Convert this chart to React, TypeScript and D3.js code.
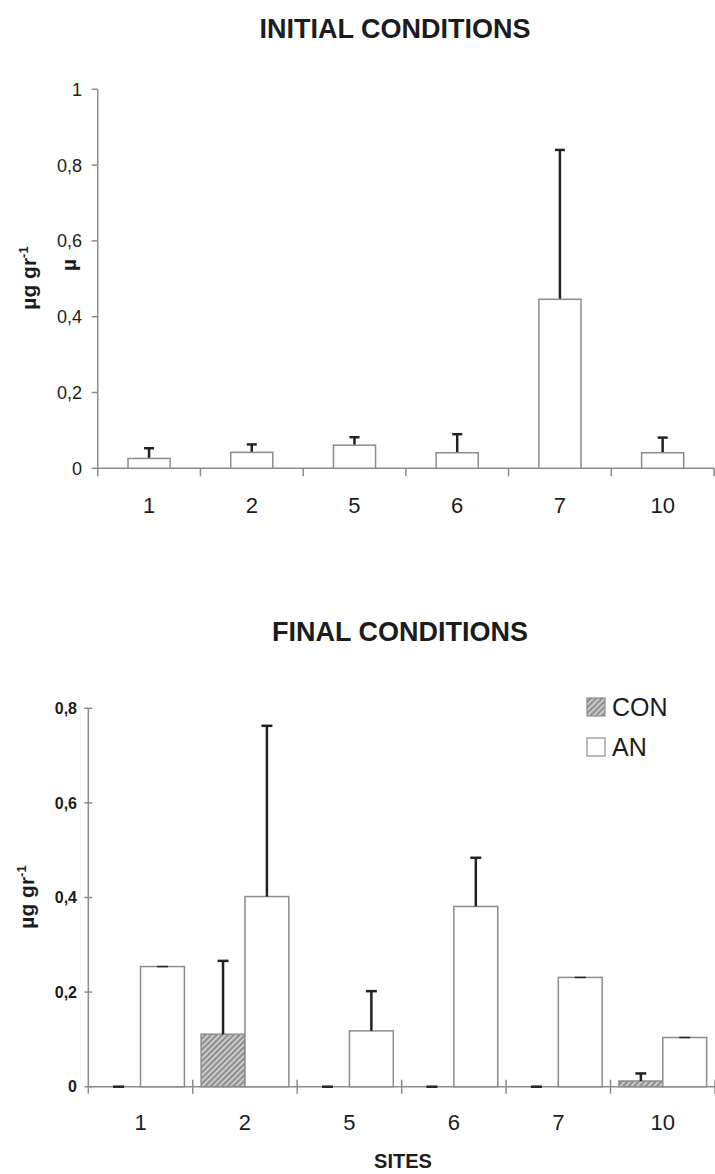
import React from "react";
import * as d3 from "d3";

const sites = ["1", "2", "5", "6", "7", "10"];
const initialMean = [0.026, 0.042, 0.061, 0.041, 0.446, 0.041];
const initialErr = [0.027, 0.021, 0.021, 0.049, 0.394, 0.04];
const topTicks = [0, 0.2, 0.4, 0.6, 0.8, 1];

const series = ["CON", "AN"];
const conMean = [0, 0.111, 0, 0, 0, 0.012];
const conErr = [0, 0.155, 0, 0, 0, 0.016];
const anMean = [0.254, 0.402, 0.118, 0.381, 0.231, 0.104];
const anErr = [0, 0.361, 0.084, 0.103, 0, 0];
const bottomTicks = [0, 0.2, 0.4, 0.6, 0.8];

const fmt = (v: number) => String(v).replace(".", ",");
const AXIS = "#8c8c8c";
const TXT = "#1c1c1c";
const FONT = "Liberation Sans, Arial, sans-serif";

export default function App() {
  const x1 = d3.scaleBand<string>().domain(sites).range([97.7, 714]).paddingInner(0.59).paddingOuter(0.295);
  const y1 = d3.scaleLinear().domain([0, 1]).range([468.3, 89.3]);
  const step1 = x1.step();
  const left1 = 97.7;

  const x2 = d3.scaleBand<string>().domain(sites).range([88.3, 715]).paddingInner(0.16).paddingOuter(0.08);
  const xs = d3.scaleBand<string>().domain(series).range([0, x2.bandwidth()]);
  const y2 = d3.scaleLinear().domain([0, 0.8]).range([1086.7, 708.3]);
  const step2 = x2.step();
  const left2 = 88.3;

  const bottomData = sites.map((s, i) => [
    { key: "CON", site: s, mean: conMean[i], err: conErr[i] },
    { key: "AN", site: s, mean: anMean[i], err: anErr[i] },
  ]);

  return (
    <div style={{ position: "absolute", left: 0, top: 0 }}>
      <svg width={715} height={1174} style={{ display: "block", fontFamily: FONT }}>
        <defs>
          <pattern id="hatch" patternUnits="userSpaceOnUse" width="4" height="4" patternTransform="rotate(45)">
            <rect width="4" height="4" fill="#8f8f8f" />
            <rect x="0" y="0" width="1.6" height="4" fill="#d8d8d8" />
          </pattern>
        </defs>
        <rect width={715} height={1174} fill="#fff" />

        {/* ===== TOP CHART ===== */}
        <text x={395} y={38} textAnchor="middle" fontWeight="bold" fontSize={27} fill={TXT}>INITIAL CONDITIONS</text>

        <line x1={left1} x2={left1} y1={y1(1)} y2={y1(0)} stroke={AXIS} strokeWidth={1.5} />
        {topTicks.map((t) => (
          <g key={"tt" + t}>
            <line x1={left1 - 6} x2={left1} y1={y1(t)} y2={y1(t)} stroke={AXIS} strokeWidth={1.5} />
            <text x={82} y={y1(t)} dy="0.36em" textAnchor="end" fontSize={18} fill={TXT}>{fmt(t)}</text>
          </g>
        ))}
        <line x1={left1} x2={714} y1={y1(0)} y2={y1(0)} stroke={AXIS} strokeWidth={1.5} />
        {sites.map((s, i) => (
          <line key={"xt" + s} x1={left1 + step1 * (i + 1)} x2={left1 + step1 * (i + 1)} y1={y1(0)} y2={y1(0) + 8} stroke={AXIS} strokeWidth={1.5} />
        ))}
        <line x1={left1} x2={left1} y1={y1(0)} y2={y1(0) + 8} stroke={AXIS} strokeWidth={1.5} />
        {sites.map((s) => (
          <text key={"xl" + s} x={(x1(s) as number) + x1.bandwidth() / 2} y={505} dy="0.36em" textAnchor="middle" fontSize={22} fill={TXT}>{s}</text>
        ))}

        {sites.map((s, i) => {
          const bx = x1(s) as number;
          const cx = bx + x1.bandwidth() / 2;
          return (
            <g key={"b1" + s}>
              <line x1={cx} x2={cx} y1={y1(initialMean[i])} y2={y1(initialMean[i] + initialErr[i])} stroke="#222" strokeWidth={2.5} />
              <line x1={cx - 5} x2={cx + 5} y1={y1(initialMean[i] + initialErr[i])} y2={y1(initialMean[i] + initialErr[i])} stroke="#222" strokeWidth={2.5} />
              <rect x={bx} y={y1(initialMean[i])} width={x1.bandwidth()} height={y1(0) - y1(initialMean[i])} fill="#fff" stroke={AXIS} strokeWidth={1.5} />
            </g>
          );
        })}

        <text transform="translate(36,278) rotate(-90)" textAnchor="middle" fontWeight="bold" fontSize={21} fill={TXT}>
          µg gr<tspan dy="-8" fontSize={13}>-1</tspan>
        </text>
        <text transform="translate(76,265) rotate(-90)" textAnchor="middle" fontWeight="bold" fontSize={21} fill={TXT}>µ</text>

        {/* ===== BOTTOM CHART ===== */}
        <text x={400} y={641} textAnchor="middle" fontWeight="bold" fontSize={27} fill={TXT}>FINAL CONDITIONS</text>

        <line x1={left2} x2={left2} y1={y2(0.8)} y2={y2(0)} stroke={AXIS} strokeWidth={1.5} />
        {bottomTicks.map((t) => (
          <g key={"bt" + t}>
            <line x1={left2 - 4} x2={left2 + 4} y1={y2(t)} y2={y2(t)} stroke={AXIS} strokeWidth={1.5} />
            <text x={77} y={y2(t)} dy="0.36em" textAnchor="end" fontSize={16} fontWeight="bold" fill={TXT}>{fmt(t)}</text>
          </g>
        ))}
        <line x1={left2} x2={715} y1={y2(0)} y2={y2(0)} stroke={AXIS} strokeWidth={1.5} />
        {sites.map((s, i) => (
          <line key={"xt2" + s} x1={left2 + step2 * (i + 1)} x2={left2 + step2 * (i + 1)} y1={y2(0) - 7} y2={y2(0) + 7} stroke={AXIS} strokeWidth={1.5} />
        ))}
        <line x1={left2} x2={left2} y1={y2(0)} y2={y2(0) + 7} stroke={AXIS} strokeWidth={1.5} />
        {sites.map((s) => (
          <text key={"xl2" + s} x={(x2(s) as number) + x2.bandwidth() / 2} y={1122} dy="0.36em" textAnchor="middle" fontSize={22} fill={TXT}>{s}</text>
        ))}

        {bottomData.map((grp, gi) => (
          <g key={"g" + gi} transform={`translate(${x2(sites[gi])},0)`}>
            {grp.map((d) => {
              const bx = xs(d.key) as number;
              const cx = bx + xs.bandwidth() / 2;
              const top = y2(d.mean + d.err);
              return (
                <g key={d.key}>
                  {d.mean > 0 && (
                    <rect x={bx} y={y2(d.mean)} width={xs.bandwidth()} height={y2(0) - y2(d.mean)}
                      fill={d.key === "CON" ? "url(#hatch)" : "#fff"} stroke={AXIS} strokeWidth={1.5} />
                  )}
                  <line x1={cx} x2={cx} y1={y2(d.mean)} y2={top} stroke="#222" strokeWidth={2.5} />
                  <line x1={cx - 5.5} x2={cx + 5.5} y1={top} y2={top} stroke="#222" strokeWidth={d.err > 0 || d.mean === 0 ? 2.5 : 1.5} />
                </g>
              );
            })}
          </g>
        ))}

        <text transform="translate(34,897) rotate(-90)" textAnchor="middle" fontWeight="bold" fontSize={21} fill={TXT}>
          µg gr<tspan dy="-8" fontSize={13}>-1</tspan>
        </text>

        <text x={403} y={1168} textAnchor="middle" fontWeight="bold" fontSize={20} fill={TXT}>SITES</text>

        {series.map((k, i) => (
          <g key={"lg" + k} transform={`translate(587,${698 + i * 40})`}>
            <rect x={0} y={0} width={18} height={18} fill={k === "CON" ? "url(#hatch)" : "#fff"} stroke={AXIS} strokeWidth={1.2} />
            <text x={25} y={9} dy="0.36em" fontSize={25} fill={TXT}>{k}</text>
          </g>
        ))}
      </svg>
    </div>
  );
}
